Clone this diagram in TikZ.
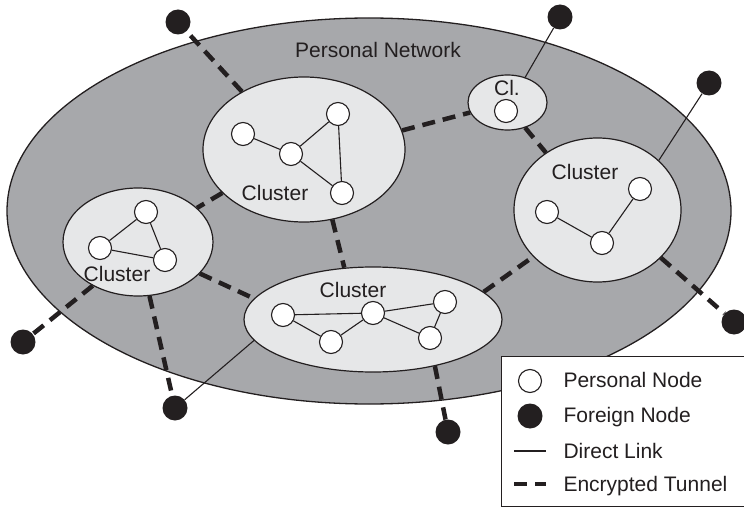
\documentclass[tikz,border=0pt]{standalone}
\usepackage{fontspec}
\setmainfont{Liberation Sans}
\usetikzlibrary{shapes.geometric}
\definecolor{netgray}{HTML}{A7A8AB}
\definecolor{clgray}{HTML}{E6E7E8}
\definecolor{ink}{HTML}{231F20}

\begin{document}
\begin{tikzpicture}[x=1pt,y=-1pt,
    font=\fontsize{21}{25}\selectfont, text=ink,
    pnode/.style={circle,draw=ink,fill=white,line width=1.1pt,minimum size=23pt,inner sep=0pt},
    fnode/.style={circle,fill=ink,minimum size=25pt,inner sep=0pt},
    cluster/.style={ellipse,draw=ink,fill=clgray,line width=1.2pt,inner sep=0pt},
    link/.style={draw=ink,line width=1.1pt},
    tunnel/.style={draw=ink,line width=4.5pt,dash pattern=on 13pt off 8pt}]
	\useasboundingbox (0,0) rectangle (744,508);
	% personal network
	\draw[ink,fill=netgray,line width=1.3pt] (369,211) ellipse [x radius=362,y radius=193];
	\node (net) at (378,50) {Personal Network};
	% clusters
	\node[cluster,minimum width=202pt,minimum height=145pt] (c1) at (304,149.5) {};
	\node[cluster,minimum width=150pt,minimum height=108pt] (c2) at (138,242) {};
	\node[cluster,minimum width=258pt,minimum height=105pt] (c3) at (373,319.5) {};
	\node[cluster,minimum width=167pt,minimum height=144pt] (c4) at (597.5,210) {};
	\node[cluster,minimum width=79pt,minimum height=55pt] (c5) at (507.5,102.5) {};
	\node (lc1) at (275,193) {Cluster};
	\node (lc2) at (117,274) {Cluster};
	\node (lc3) at (353,290) {Cluster};
	\node (lc4) at (585,172) {Cluster};
	\node (lc5) at (507,88) {Cl.};
	% personal nodes
	\node[pnode] (p11) at (243,134) {};
	\node[pnode] (p12) at (291,154) {};
	\node[pnode] (p13) at (338,114) {};
	\node[pnode] (p14) at (342,193) {};
	\node[pnode] (p21) at (146,212) {};
	\node[pnode] (p22) at (100,248) {};
	\node[pnode] (p23) at (165,260) {};
	\node[pnode] (p31) at (283,315) {};
	\node[pnode] (p32) at (331,342) {};
	\node[pnode] (p33) at (373,313) {};
	\node[pnode] (p34) at (445,302) {};
	\node[pnode] (p35) at (430,338) {};
	\node[pnode] (p41) at (547,212) {};
	\node[pnode] (p42) at (602,243) {};
	\node[pnode] (p43) at (640,189) {};
	\node[pnode] (p51) at (506,111) {};
	% foreign nodes
	\node[fnode] (f1) at (178,22) {};
	\node[fnode] (f2) at (560,17) {};
	\node[fnode] (f3) at (709,83) {};
	\node[fnode] (f4) at (734,322) {};
	\node[fnode] (f5) at (448,432) {};
	\node[fnode] (f6) at (175,408) {};
	\node[fnode] (f7) at (23,342) {};
	% direct links
	\draw[link] (p11) -- (p12) -- (p13) -- (p14) -- (p12);
	\draw[link] (p22) -- (p21) -- (p23) -- (p22);
	\draw[link] (p31) -- (p33) -- (p34) -- (p35) -- (p33) -- (p32) -- (p31);
	\draw[link] (p41) -- (p42) -- (p43);
	\draw[link] (c5.55) -- (f2);
	\draw[link] (c4.39) -- (f3);
	\draw[link] (c3.190) -- (f6);
	% encrypted tunnels
	\draw[tunnel] (c1.137) -- (f1);
	\draw[tunnel] (c1.11) -- (c5.195);
	\draw[tunnel] (c5.305) -- (c4.132);
	\draw[tunnel] (c1.208) -- (c2.30);
	\draw[tunnel] (c1.292) -- (c3.119);
	\draw[tunnel] (c2.333) -- (c3.170);
	\draw[tunnel] (c2.282) -- (f6);
	\draw[tunnel] (c2.224) -- (f7);
	\draw[tunnel] (c3.14) -- (c4.216);
	\draw[tunnel] (c3.323) -- (f5);
	\draw[tunnel] (c4.323) -- (f4);
	% legend
	\draw[ink,fill=white,line width=1pt] (501,356) rectangle (746,506);
	\node[pnode] (kp) at (530,381) {};
	\node[fnode] (kf) at (530,416) {};
	\coordinate (kl1) at (514,451);
	\coordinate (kl2) at (546,451);
	\coordinate (kt1) at (514,484);
	\coordinate (kt2) at (546,484);
	\draw[link] (kl1) -- (kl2);
	\draw[tunnel] (kt1) -- (kt2);
	\node[anchor=base west] (tp) at (560,387) {Personal Node};
	\node[anchor=base west] (tf) at (560,422) {Foreign Node};
	\node[anchor=base west] (tl) at (560,458) {Direct Link};
	\node[anchor=base west] (tt) at (560,491) {Encrypted Tunnel};
\end{tikzpicture}
\end{document}
